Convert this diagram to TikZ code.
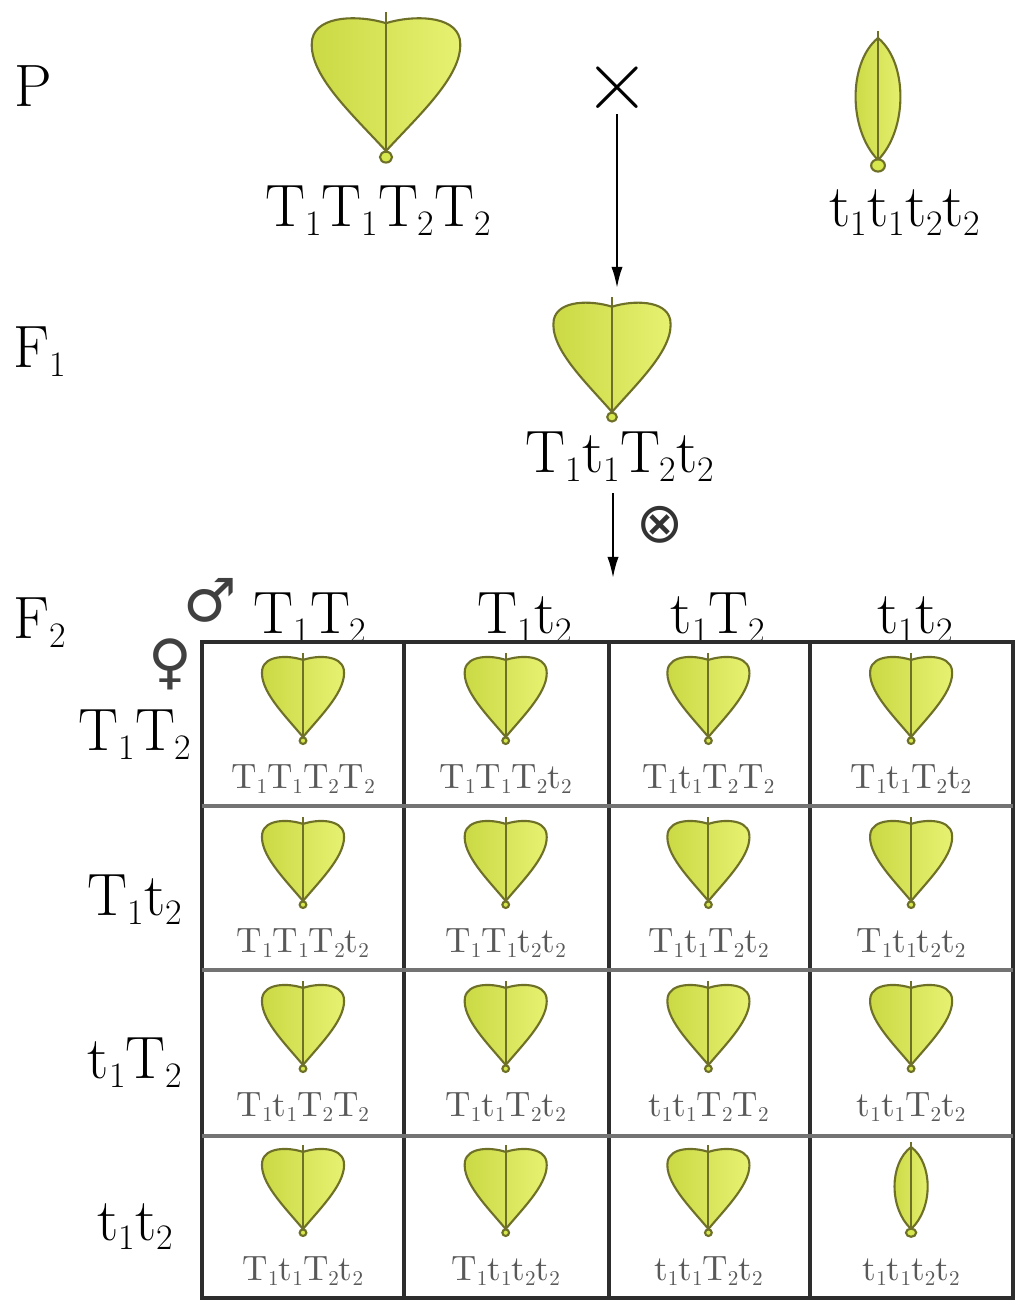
\documentclass[tikz,border=0pt]{standalone}
\usepackage{fontspec}
\usepackage{graphicx}
\usetikzlibrary{arrows.meta}
\newfontfamily\symfont{DejaVu Sans}
\newcommand\sub[1]{\raisebox{-0.35ex}{\scalebox{0.6}{#1}}}
\definecolor{leafgreen}{RGB}{214,232,78}
\definecolor{leaflight}{RGB}{232,242,115}
\definecolor{leafedge}{RGB}{110,112,40}
\definecolor{gridgray}{RGB}{45,45,45}
\begin{document}
\begin{tikzpicture}[x=0.01cm,y=-0.01cm]
\tikzset{
  leafline/.style={draw=leafedge, line width=0.6pt},
  big/.style={font=\fontsize{17}{20}\selectfont, anchor=base},
  small/.style={font=\fontsize{10}{12}\selectfont, text=black!65, anchor=base},
  sex/.style={font=\symfont\fontsize{17}{17}\selectfont, text=black!75, inner sep=0pt},
  gridline/.style={draw=gridgray, line width=0.9pt},
  arrowline/.style={line width=0.6pt, -{Latex[length=6pt,width=3.2pt]}},
  % heart shaped leaf, unit size, y pointing down
  heart leaf/.pic={
    \path[leafline, left color=leafgreen!85!olive, right color=leaflight]
      (0,1) .. controls (-0.45,0.45) and (-1.05,-0.15) .. (-0.97,-0.65)
      .. controls (-0.9,-1.0) and (-0.35,-1.0) .. (0,-0.88)
      .. controls (0.35,-1.0) and (0.9,-1.0) .. (0.97,-0.65)
      .. controls (1.05,-0.15) and (0.45,0.45) .. (0,1) -- cycle;
    \draw[leafedge, line width=0.6pt] (0,-1.05) -- (0,1);
    \filldraw[leafline, fill=leafgreen] (0,1.09) circle[radius=0.08];
  },
  % narrow pointed leaf
  narrow leaf/.pic={
    \path[leafline, left color=leafgreen!85!olive, right color=leaflight]
      (0,-1) .. controls (1.3,-0.6) and (1.3,0.5) .. (0,1)
      .. controls (-1.3,0.5) and (-1.3,-0.6) .. (0,-1) -- cycle;
    \draw[leafedge, line width=0.6pt] (0,-1.12) -- (0,1);
    \filldraw[leafline, fill=leafgreen] (0,1.09) circle[x radius=0.3, y radius=0.1];
  },
}
\useasboundingbox (0,0) rectangle (1030,1300);

% generation labels
\node[big] (P) at (33,107) {P};
\node[big] (F1) at (40,367) {F\sub1};
\node[big] (F2) at (40,638) {F\sub2};

% parents
\pic[xscale=76,yscale=68] at (386,83) {heart leaf};
\node[big] (p1) at (378,226) {T\sub1T\sub1T\sub2T\sub2};
\pic[xscale=23,yscale=61] at (878,99) {narrow leaf};
\node[big] (p2) at (905,226) {t\sub1t\sub1t\sub2t\sub2};
\node[font=\fontsize{26}{26}\selectfont, inner sep=1pt] (cross) at (617,88) {×};

% F1
\pic[xscale=60,yscale=56] at (612,356) {heart leaf};
\coordinate (f1top) at (617,288);
\draw[arrowline] (cross.south) -- (f1top);
\node[big] (f1) at (620,472) {T\sub1t\sub1T\sub2t\sub2};
\coordinate (f2top) at (613,578);
\draw[arrowline] (f1.south -| f2top) -- (f2top);
\node[font=\symfont\fontsize{16}{16}\selectfont, text=black!80] (self) at (660,525) {⊗};

% gametes
\node[sex] (male) at (210,600) {♂};
\node[sex] (female) at (170,664) {♀};
\foreach \g/\x [count=\i] in {T\sub1T\sub2/310, T\sub1t\sub2/525, t\sub1T\sub2/718, t\sub1t\sub2/915}
  \node[big] (col\i) at (\x,633) {\g};
\foreach \g/\y [count=\i] in {T\sub1T\sub2/750, T\sub1t\sub2/915, t\sub1T\sub2/1078, t\sub1t\sub2/1240}
  \node[big] (row\i) at (135,\y) {\g};

% the grid
\draw[gridline] (202,642) rectangle (1013,1298);
\foreach \x in {404,609,810} { \draw[gridline] (\x,642) -- (\x,1298); }
\foreach \y in {806,970,1136} { \draw[gridline, draw=black!55] (202,\y) -- (1013,\y); }

% offspring
\foreach \g [count=\n from 0] in {T\sub1T\sub1T\sub2T\sub2, T\sub1T\sub1T\sub2t\sub2, T\sub1t\sub1T\sub2T\sub2, T\sub1t\sub1T\sub2t\sub2,
    T\sub1T\sub1T\sub2t\sub2, T\sub1T\sub1t\sub2t\sub2, T\sub1t\sub1T\sub2t\sub2, T\sub1t\sub1t\sub2t\sub2,
    T\sub1t\sub1T\sub2T\sub2, T\sub1t\sub1T\sub2t\sub2, t\sub1t\sub1T\sub2T\sub2, t\sub1t\sub1T\sub2t\sub2,
    T\sub1t\sub1T\sub2t\sub2, T\sub1t\sub1t\sub2t\sub2, t\sub1t\sub1T\sub2t\sub2, t\sub1t\sub1t\sub2t\sub2} {
  \pgfmathsetmacro\cx{303+202.7*mod(\n,4)}
  \pgfmathsetmacro\ry{642+164*floor(\n/4)}
  \ifnum\n=15
    \pic[xscale=17,yscale=41] at (\cx,\ry+54) {narrow leaf};
  \else
    \pic[xscale=42,yscale=41] at (\cx,\ry+54) {heart leaf};
  \fi
  \node[small] (cell\n) at (\cx,\ry+146) {\g};
}
\end{tikzpicture}
\end{document}
